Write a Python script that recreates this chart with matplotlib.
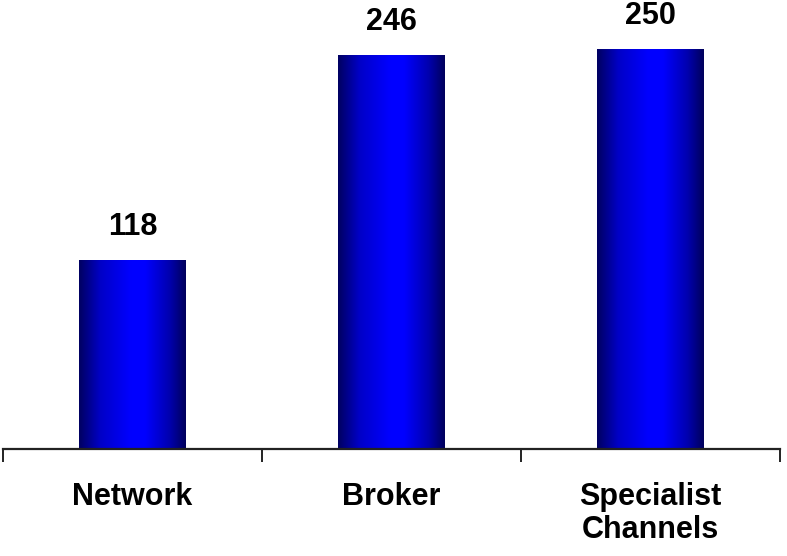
import numpy as np
import matplotlib
matplotlib.use("Agg")
import matplotlib.pyplot as plt
from matplotlib.colors import LinearSegmentedColormap

# --- data ---
categories = ["Network", "Broker", "Specialist\nChannels"]
values = [118, 246, 250]

plt.rcParams["font.family"] = ["Liberation Sans", "DejaVu Sans"]

fig = plt.figure(figsize=(7.87, 5.56), dpi=100)
ax = fig.add_axes([3 / 787, (556 - 449) / 556, 777 / 787, 449 / 556])

# navy -> blue -> navy shading across each bar
shade = LinearSegmentedColormap.from_list(
    "shade",
    [(0.0, (0, 0, 0.38)), (0.2, (0, 0, 0.78)), (0.48, (0, 0, 1.0)),
     (0.62, (0, 0, 1.0)), (0.85, (0, 0, 0.68)), (1.0, (0, 0, 0.36))])
grad = np.linspace(0, 1, 256).reshape(1, -1)

xs = np.arange(len(categories)) + 0.5
bars = ax.bar(xs, values, width=0.41, color="none", edgecolor="none")
for b, v in zip(bars, values):
    x0, w, h = b.get_x(), b.get_width(), b.get_height()
    im = ax.imshow(grad, cmap=shade, aspect="auto",
                   extent=[x0, x0 + w, 0, h], interpolation="bicubic", zorder=2)
    im.set_clip_path(b)
    ax.annotate(str(v), (b.get_x() + w / 2, h), xytext=(0, 13),
                textcoords="offset points", ha="center", va="bottom",
                fontsize=22, fontweight="bold")

ax.set_xlim(0, 3)
ax.set_ylim(0, 449 / 1.6)

for s in ["top", "right", "left"]:
    ax.spines[s].set_visible(False)
ax.spines["bottom"].set_linewidth(1.6)
ax.spines["bottom"].set_color("#222222")
ax.set_yticks([])

# tick marks at the category boundaries, labels at the centres
ax.set_xticks([0, 1, 2, 3])
ax.set_xticklabels([])
ax.tick_params(axis="x", which="major", direction="out", length=9, width=1.4, color="#222222")
ax.set_xticks(xs, minor=True)
ax.set_xticklabels(categories, minor=True, fontsize=22, fontweight="bold",
                   linespacing=1.1, va="top")
ax.tick_params(axis="x", which="minor", length=0, pad=24)

fig.savefig("out.png", dpi=100)
